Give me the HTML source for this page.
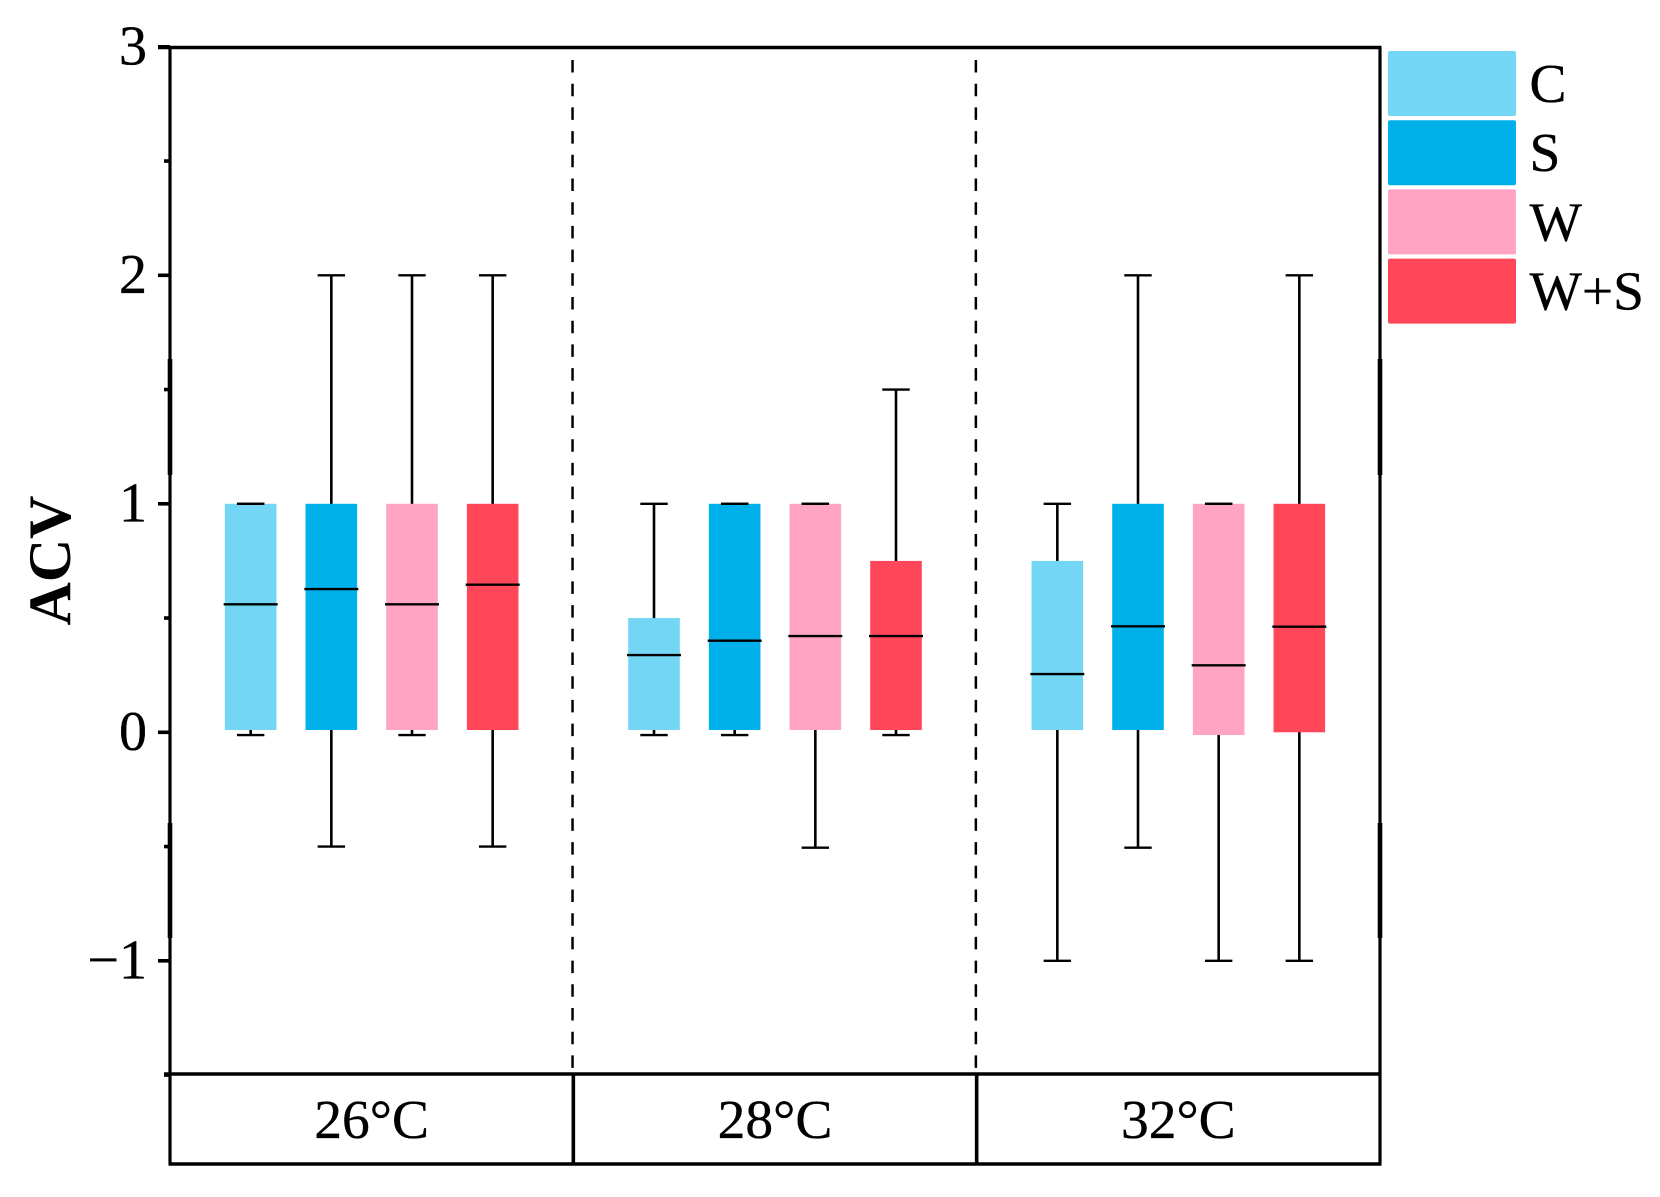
<!DOCTYPE html>
<html lang="en">
<head>
<meta charset="utf-8">
<title>ACV box plot</title>
<style>
  html, body { margin: 0; padding: 0; background: #fff; }
  #chart { display: block; width: 1660px; height: 1197px; font-family: "Liberation Serif", serif; }
  #axes text, #legend text { stroke: #000; stroke-width: 0.35px; }
</style>
</head>
<body>
<svg id="chart" xmlns="http://www.w3.org/2000/svg" width="1660" height="1197" viewBox="0 0 1660 1197">
  <text transform="translate(70 560.5) rotate(-90)" text-anchor="middle" font-size="60" font-weight="bold" fill="#000">ACV</text>
  <g id="plot"></g>
  <g id="axes"></g>
  <g id="legend"></g>
</svg>
<script>
const groups = ['26°C', '28°C', '32°C'];
const seriesNames = ['C', 'S', 'W', 'W+S'];
const yTicks = [-1, 0, 1, 2, 3];
const yTickLabels = ['−1', '0', '1', '2', '3'];
const yMinorTicks = [-1.5, -0.5, 0.5, 1.5, 2.5];

const whiskerHigh = [
  [1, 2, 2, 2],
  [1, 1, 1, 1.5],
  [1, 2, 1, 2]
];
const q3 = [
  [1, 1, 1, 1],
  [0.5, 1, 1, 0.75],
  [0.75, 1, 1, 1]
];
const median = [
  [0.56, 0.627, 0.56, 0.646],
  [0.338, 0.401, 0.421, 0.421],
  [0.255, 0.464, 0.293, 0.462]
];
const q1 = [
  [0.01, 0.01, 0.01, 0.01],
  [0.01, 0.01, 0.01, 0.01],
  [0.01, 0.01, -0.012, 0]
];
const whiskerLow = [
  [-0.012, -0.5, -0.012, -0.5],
  [-0.012, -0.012, -0.505, -0.012],
  [-1, -0.505, -1, -1]
];

const seriesColor = { 'C': '#72D6F4', 'S': '#00B0EA', 'W': '#FFA5C3', 'W+S': '#FF4759' };

const SVG_NS = 'http://www.w3.org/2000/svg';
const plotLeft = 170, plotRight = 1380, plotTop = 47.5, plotBottom = 1074, stripBottom = 1164;
const panelWidth = (plotRight - plotLeft) / groups.length;
const y = v => 732.3 - 228.5 * v;
const panelX = i => plotLeft + panelWidth * i;
const x = (g, s) => panelX(g) + panelWidth * 0.2 + s * panelWidth * 0.2;

function mk(tag, attrs, parent, text) {
  const el = document.createElementNS(SVG_NS, tag);
  for (const k in attrs) el.setAttribute(k, attrs[k]);
  if (text !== undefined) el.textContent = text;
  parent.appendChild(el);
  return el;
}

const plot = document.getElementById('plot');
const axes = document.getElementById('axes');
const legend = document.getElementById('legend');
const INK = '#000';
const AXIS_W = 3.6;
const slug = s => s.replace('+', '-plus-').replace('°', '').toLowerCase();

/* boxes */
groups.forEach((groupName, g) => {
  seriesNames.forEach((name, s) => {
    const cx = x(g, s);
    const id = slug(groupName) + '-' + slug(name);

    const whisker = mk('line', { x1: cx, x2: cx, y1: y(whiskerHigh[g][s]), y2: y(whiskerLow[g][s]), stroke: '#000', 'stroke-width': 2.6 }, plot);
    
    

    const capHigh = mk('line', { x1: cx - 13.7, x2: cx + 13.7, y1: y(whiskerHigh[g][s]), y2: y(whiskerHigh[g][s]), stroke: '#000', 'stroke-width': 2.4 }, plot);
    
    

    const capLow = mk('line', { x1: cx - 13.7, x2: cx + 13.7, y1: y(whiskerLow[g][s]), y2: y(whiskerLow[g][s]), stroke: '#000', 'stroke-width': 2.4 }, plot);
    
    

    const box = mk('rect', { x: cx - 25.8, y: y(q3[g][s]), width: 51.6, height: y(q1[g][s]) - y(q3[g][s]), fill: seriesColor[name] }, plot);
    
    

    if (whiskerHigh[g][s] === q3[g][s]) {
      const capTop = mk('line', { x1: cx - 13.7, x2: cx + 13.7, y1: y(q3[g][s]), y2: y(q3[g][s]), stroke: '#000', 'stroke-width': 2.4 }, plot);
      
      
    }

    const med = mk('line', { x1: cx - 27, x2: cx + 27, y1: y(median[g][s]), y2: y(median[g][s]), stroke: '#000', 'stroke-width': 2.4 }, plot);
    
    
  });
});

/* dashed panel separators */
for (let i = 1; i < groups.length; i++) {
  const dash = mk('line', { x1: panelX(i) - 0.8, x2: panelX(i) - 0.8, y1: 60, y2: plotBottom, stroke: '#000', 'stroke-width': 2.5, 'stroke-dasharray': '12.5 11.2' }, axes);
  
  

  const solid = mk('line', { x1: panelX(i), x2: panelX(i), y1: plotBottom, y2: stripBottom, stroke: '#000', 'stroke-width': AXIS_W }, axes);
  
  
}

/* frame */
const frameTop = mk('line', { x1: 158, x2: plotRight + 1.5, y1: plotTop, y2: plotTop, stroke: INK, 'stroke-width': AXIS_W }, axes);



const frameLeft = mk('line', { x1: plotLeft, x2: plotLeft, y1: plotTop, y2: stripBottom, stroke: INK, 'stroke-width': 3.2 }, axes);



const frameRight = mk('line', { x1: plotRight, x2: plotRight, y1: plotTop, y2: stripBottom, stroke: INK, 'stroke-width': 3.2 }, axes);



const frameMid = mk('line', { x1: 164, x2: plotRight, y1: plotBottom, y2: plotBottom, stroke: INK, 'stroke-width': AXIS_W }, axes);



const frameBottom = mk('line', { x1: plotLeft - 1.5, x2: plotRight + 1.5, y1: stripBottom, y2: stripBottom, stroke: INK, 'stroke-width': AXIS_W }, axes);



/* thicker stretches of the frame sides visible in the source image */
[plotLeft, plotRight].forEach((fx, side) => {
  const upper = mk('line', { x1: fx, x2: fx, y1: 359, y2: 475, stroke: INK, 'stroke-width': 4.6 }, axes);
  
  

  const lower = mk('line', { x1: fx, x2: fx, y1: 823, y2: 938, stroke: INK, 'stroke-width': 4.6 }, axes);
  
  
});

/* y ticks */
yTicks.forEach((v, i) => {
  const tick = mk('line', { x1: 158, x2: plotLeft, y1: y(v), y2: y(v), stroke: INK, 'stroke-width': AXIS_W }, axes);
  
  

  const label = mk('text', { x: 147, y: y(v) + 17.5, 'text-anchor': 'end', 'font-size': 56, fill: '#000' }, axes, yTickLabels[i]);
  
  
});
yMinorTicks.forEach((v, i) => {
  const minor = mk('line', { x1: 164, x2: plotLeft, y1: y(v), y2: y(v), stroke: INK, 'stroke-width': AXIS_W }, axes);
  
  
});

/* group labels */
groups.forEach((groupName, g) => {
  const label = mk('text', { x: panelX(g) + panelWidth / 2, y: 1138, 'text-anchor': 'middle', 'font-size': 55.5, fill: '#000' }, axes, groupName);
  
  
});

/* legend */
const legendStep = 69.2;
seriesNames.forEach((name, s) => {
  const top = 51 + s * legendStep;
  const swatch = mk('rect', { x: 1388, y: top, width: 128, height: 65, rx: 2, fill: seriesColor[name] }, legend);
  
  

  const label = mk('text', { x: 1529.5, y: top + 51, 'font-size': 55.5, fill: '#000' }, legend, name);
  
  
});
</script>
</body>
</html>
